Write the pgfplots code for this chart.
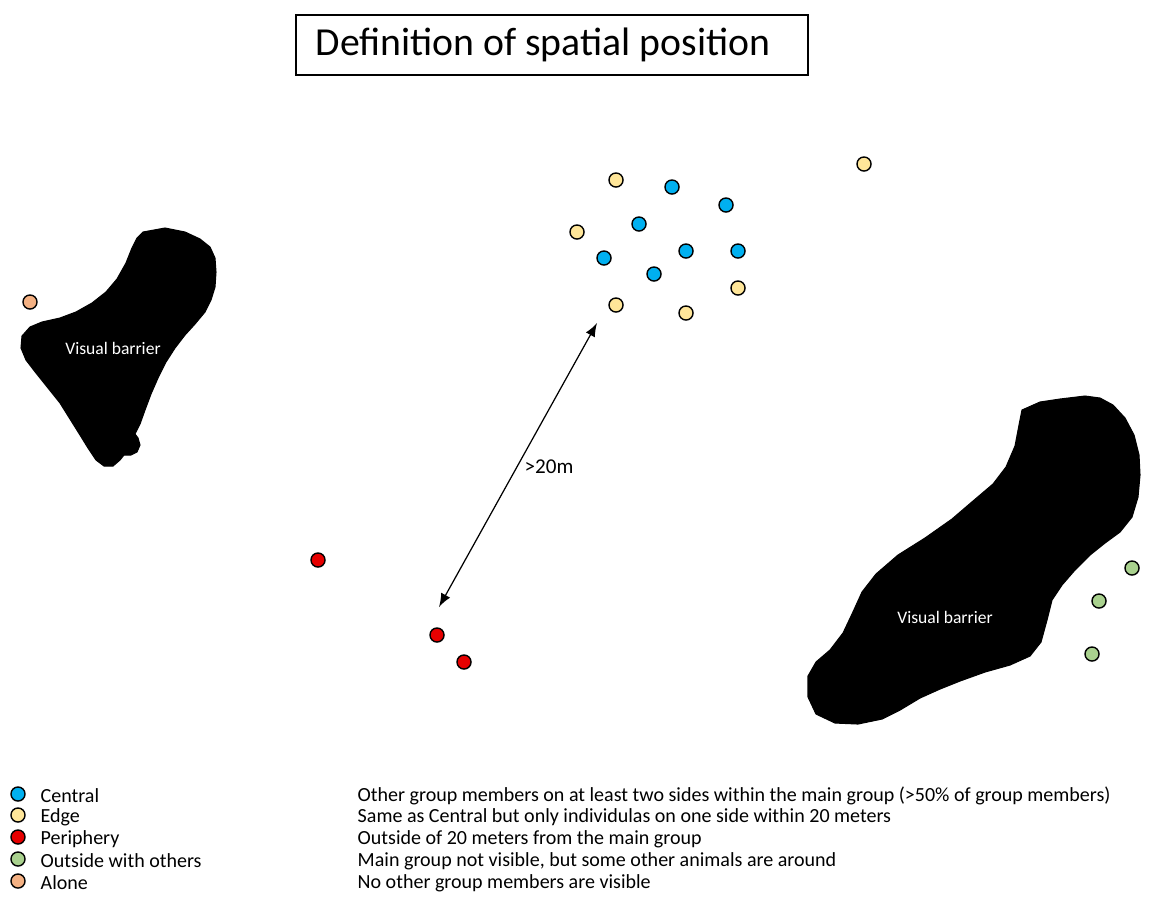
\documentclass[border=0pt]{standalone}
\usepackage{pgfplots}
\pgfplotsset{compat=1.18}
\usepackage{fontspec}
\setmainfont{Carlito}
\definecolor{central}{RGB}{0,176,240}
\definecolor{edge}{RGB}{255,230,153}
\definecolor{periph}{RGB}{230,0,0}
\definecolor{outside}{RGB}{169,209,142}
\definecolor{alone}{RGB}{244,177,131}
\begin{document}
\begin{tikzpicture}
\begin{axis}[
  scale only axis, width=11.5cm, height=9.02cm,
  xmin=0, xmax=1150, ymin=0, ymax=902, y dir=reverse,
  hide axis, clip=false,
  pt/.style={only marks, mark=*, mark size=2.0pt, mark options={draw=black, line width=0.45pt}},
]
% invisible extent
\addplot[draw=none] coordinates {(0,0) (1150,902)};
% title box
\addplot[draw=black, line width=0.45pt] coordinates {(296,15) (808,15) (808,75) (296,75)} -- cycle;
\node[anchor=center, font=\fontsize{11.3}{13}\selectfont] at (axis cs:543,45) {Definition of spatial position};
% left barrier
\addplot[fill=black, draw=black, line width=0.3pt] coordinates {
(143,232) (165,228) (185,232) (200,239) (210,247) (215,258) (216,272) (215,287) (211,300) (205,312)
(195,324) (185,335) (175,348) (166,362) (158,378) (151,394) (145,410) (140,424) (135,434)
(138,438) (140,445) (137,452) (131,455) (124,455) (120,460) (113,466) (104,466) (96,460)
(88,448) (80,435) (70,419) (60,403) (48,388) (36,373) (26,360) (21,348) (22,336) (30,327)
(42,322) (60,318) (76,312) (92,303) (106,292) (117,279) (126,263) (132,248) (137,238)
} -- cycle;
% right barrier
\addplot[fill=black, draw=black, line width=0.3pt] coordinates {
(1022,410) (1040,402) (1060,399) (1085,396) (1100,398) (1113,405) (1125,418) (1134,435) (1139,455)
(1140,475) (1138,497) (1132,517) (1120,532) (1105,543) (1090,555) (1075,570) (1062,585)
(1052,600) (1047,620) (1041,642) (1030,656) (1010,665) (985,672) (960,681) (940,689) (920,698)
(900,710) (882,719) (858,724) (835,723) (816,714) (808,697) (808,676) (816,662) (830,650)
(843,633) (852,614) (862,592) (876,574) (898,555) (925,538) (952,519) (973,501) (993,484)
(1006,467) (1015,446) (1019,425)
} -- cycle;
\node[text=white, font=\fontsize{5.0}{6}\selectfont] at (axis cs:113,348) {Visual barrier};
\node[text=white, font=\fontsize{5.0}{6}\selectfont] at (axis cs:945,617) {Visual barrier};
% arrow
\addplot[black, line width=0.35pt, {latex}-{latex}] coordinates {(439,607) (597,323)};
\node[anchor=west, inner sep=0pt, font=\fontsize{6.0}{7}\selectfont] at (axis cs:524,467) {>20m};
% points
\addplot[pt, mark options={fill=edge}] coordinates {(616,180) (577,232) (616,305) (686,313) (738,288) (864,164)};
\addplot[pt, mark options={fill=central}] coordinates {(672,187) (726,205) (639,224) (604,258) (686,251) (738,251) (654,274)};
\addplot[pt, mark options={fill=periph}] coordinates {(318,560) (437,635) (464,662)};
\addplot[pt, mark options={fill=outside}] coordinates {(1132,568) (1099,601) (1092,654)};
\addplot[pt, mark options={fill=alone}] coordinates {(30,302)};
% legend markers
\addplot[pt, mark options={fill=central}] coordinates {(18,794)};
\addplot[pt, mark options={fill=edge}] coordinates {(18,815)};
\addplot[pt, mark options={fill=periph}] coordinates {(18,837)};
\addplot[pt, mark options={fill=outside}] coordinates {(18,859)};
\addplot[pt, mark options={fill=alone}] coordinates {(18,881)};
% legend text
\begin{scope}[every node/.style={anchor=west, font=\fontsize{5.7}{6.8}\selectfont, inner sep=0pt}]
\node at (axis cs:40,796) {Central};
\node at (axis cs:40,817) {Edge};
\node at (axis cs:40,839) {Periphery};
\node at (axis cs:40,861) {Outside with others};
\node at (axis cs:40,883) {Alone};
\node at (axis cs:357,796) {Other group members on at least two sides within the main group (>50\% of group members)};
\node at (axis cs:357,817) {Same as Central but only individulas on one side within 20 meters};
\node at (axis cs:357,839) {Outside of 20 meters from the main group};
\node at (axis cs:357,861) {Main group not visible, but some other animals are around};
\node at (axis cs:357,883) {No other group members are visible};
\end{scope}
\end{axis}
\end{tikzpicture}
\end{document}
